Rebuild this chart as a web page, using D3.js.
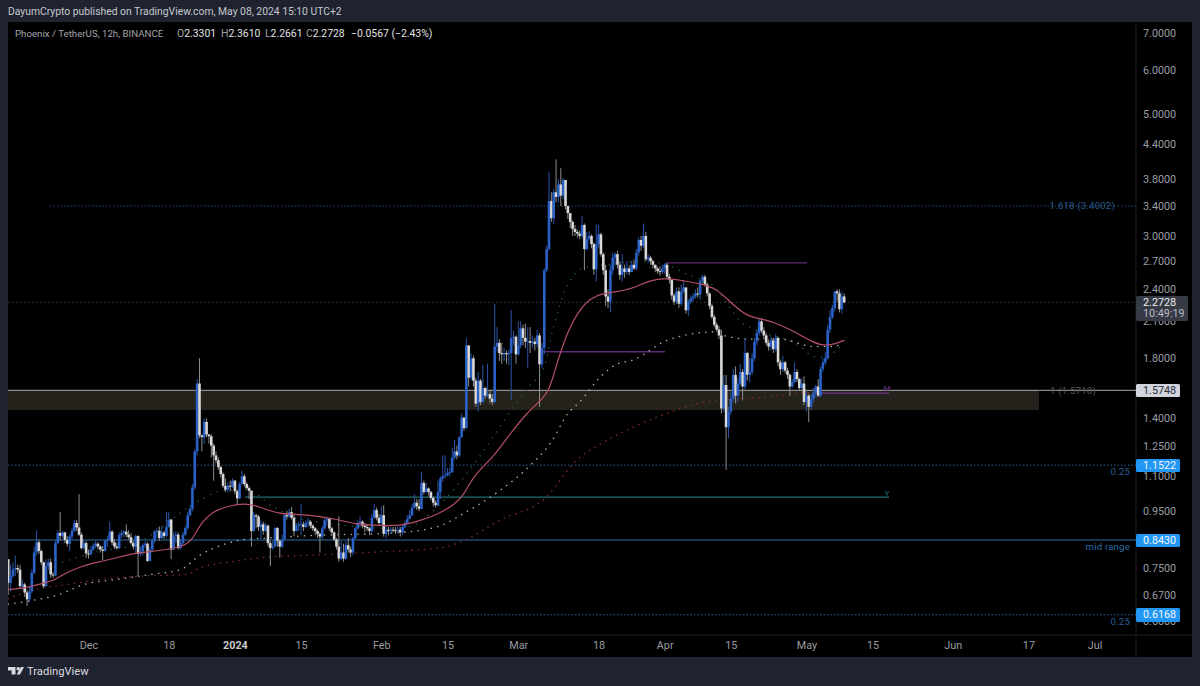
<!DOCTYPE html>
<html lang="en">
<head>
<meta charset="UTF-8">
<title>Phoenix / TetherUS, 12h</title>
<script src="https://d3js.org/d3.v7.min.js"></script>
<style>
  html, body { margin: 0; padding: 0; background: #1f2330; overflow: hidden; }
  svg { display: block; font-family: Roboto, "Liberation Sans", sans-serif; }
  .axis .domain, .axis line { display: none; }
  .axis text { fill: #9b9da3; font-size: 10.8px; font-family: Roboto, "Liberation Sans", sans-serif; }
</style>
</head>
<body>
<svg id="chart" width="1200" height="686"></svg>

<script>
    // 12h candles. Open of each bar is the previous close.
    const firstBar = Date.UTC(2023, 10, 14);
    const barMs = 12 * 3600 * 1000;
    const firstOpen = 0.778;

    const closes = [
        .705,.725,.745,.75,.745,.695,.70,.677,.658,.68,
        .735,.80,.835,.805,.768,.695,.756,.768,.73,.727,
        .832,.868,.858,.87,.843,.83,.855,.875,.905,.888,
        .862,.815,.832,.797,.795,.81,.823,.83,.82,.81,
        .805,.84,.845,.873,.835,.82,.815,.86,.868,.873,
        .862,.853,.832,.82,.857,.795,.803,.825,.83,.772,
        .81,.84,.873,.876,.85,.87,.857,.89,.918,.81,
        .857,.862,.815,.832,.862,.886,.935,.96,1.05,1.22,
        1.62,1.305,1.295,1.38,1.31,1.30,1.25,1.20,1.176,1.143,
        1.11,1.057,1.04,1.057,1.053,1.08,1.033,1.003,1.065,1.10,
        1.065,1.047,1.035,.875,.935,.93,.89,.90,.876,.895,
        .832,.815,.82,.886,.84,.82,.845,.935,.93,.947,
        .925,.875,.895,.90,.90,.89,.905,.91,.895,.885,
        .875,.865,.855,.885,.915,.92,.885,.87,.845,.82,
        .78,.80,.78,.825,.81,.80,.85,.885,.905,.91,
        .895,.89,.885,.875,.925,.955,.925,.905,.935,.865,
        .88,.875,.88,.878,.875,.88,.87,.89,.905,.92,
        .935,.965,.985,.97,.96,1.07,1.03,1.045,1.03,1.005,
        .985,.975,1.03,1.09,1.10,1.105,1.115,1.12,1.19,1.22,
        1.20,1.295,1.405,1.345,1.90,1.66,1.80,1.64,1.49,1.64,
        1.50,1.59,1.54,1.55,1.52,1.50,1.89,1.92,1.84,1.83,
        1.84,1.83,1.84,1.96,1.97,1.83,1.90,2.04,1.96,1.93,
        1.935,1.92,1.93,1.91,1.98,1.755,1.88,2.60,2.84,3.47,
        3.23,3.60,3.53,3.72,3.55,3.79,3.40,3.30,3.18,3.09,
        3.05,3.03,3.00,3.14,2.84,2.96,3.00,2.90,2.61,2.90,
        3.02,2.78,2.60,2.33,2.28,2.60,2.74,2.78,2.66,2.55,
        2.62,2.58,2.62,2.58,2.66,2.62,2.80,2.95,2.88,3.00,
        2.72,2.74,2.70,2.66,2.62,2.59,2.58,2.62,2.66,2.53,
        2.50,2.34,2.28,2.38,2.26,2.38,2.42,2.20,2.28,2.31,
        2.33,2.36,2.35,2.49,2.53,2.45,2.36,2.24,2.14,2.07,
        2.03,1.98,1.46,1.61,1.35,1.44,1.52,1.68,1.54,1.62,
        1.70,1.60,1.84,1.68,1.70,1.80,1.93,2.00,2.10,2.02,
        1.98,1.92,1.89,1.94,1.87,1.96,1.77,1.72,1.77,1.71,
        1.68,1.60,1.63,1.70,1.65,1.59,1.62,1.50,1.54,1.47,
        1.52,1.56,1.60,1.54,1.72,1.77,1.80,2.03,2.14,2.22,
        2.38,2.36,2.21,2.3301,2.2728
    ];
    const highs = [
        .778,.76,.768,.79,.76,.76,.715,.705,.685,.695,
        .745,.82,.878,.845,.81,.77,.778,.78,.78,.737,
        .84,.878,.947,.875,.872,.857,.862,.888,.916,.916,
        1.02,.87,.845,.84,.81,.822,.832,.84,.835,.825,
        .822,.845,.857,.91,.878,.845,.832,.87,.878,.878,
        .90,.878,.868,.84,.862,.86,.82,.832,.84,.835,
        .82,.847,.88,.888,.892,.892,.875,.947,.947,.92,
        .87,.875,.87,.845,.872,.895,.947,.975,1.065,1.23,
        1.65,1.80,1.31,1.40,1.40,1.31,1.31,1.26,1.22,1.19,
        1.15,1.118,1.09,1.073,1.08,1.09,1.083,1.04,1.073,1.125,
        1.11,1.073,1.057,1.038,.947,.94,.935,.915,.91,.905,
        .90,.84,.84,.892,.89,.845,.862,.94,.952,.96,
        .967,.935,.905,.91,.98,.91,.915,.925,.915,.90,
        .89,.88,.87,.895,.925,.93,.925,.89,.875,.85,
        .93,.84,.83,.84,.85,.82,.855,.89,.915,.93,
        .915,.905,.90,.89,.94,.98,.965,.94,.97,.975,
        .895,.89,.89,.89,.89,.895,.89,.90,.915,.935,
        .955,.98,1.02,1.0,1.0,1.12,1.08,1.07,1.05,1.035,
        1.01,.995,1.08,1.10,1.20,1.20,1.14,1.14,1.24,1.28,
        1.25,1.30,1.43,1.41,1.96,1.90,1.84,1.82,1.66,1.70,
        1.65,1.75,1.60,1.76,1.57,1.55,2.26,2.05,1.95,1.92,
        1.88,1.86,1.87,2.20,2.02,1.98,2.10,2.10,2.07,2.08,
        2.05,2.05,1.98,1.96,2.03,2.0,1.92,2.62,2.88,3.92,
        3.60,3.65,4.13,3.80,3.98,3.82,3.79,3.40,3.30,3.20,
        3.14,3.08,3.07,3.26,3.16,3.05,3.06,3.02,2.92,3.15,
        3.14,3.04,2.80,2.66,2.40,2.66,2.80,2.80,2.82,2.70,
        2.78,2.66,2.70,2.65,2.70,2.72,2.84,2.98,3.00,3.16,
        3.05,2.78,2.76,2.72,2.66,2.64,2.64,2.66,2.68,2.68,
        2.56,2.50,2.36,2.42,2.42,2.45,2.48,2.42,2.30,2.34,
        2.36,2.40,2.42,2.50,2.55,2.55,2.47,2.37,2.26,2.16,
        2.09,2.06,2.03,1.68,1.68,1.47,1.56,1.72,1.74,1.66,
        1.76,1.72,1.96,1.85,1.80,1.84,1.96,2.03,2.13,2.13,
        2.05,2.0,1.95,1.97,1.96,1.99,1.97,1.79,1.82,1.78,
        1.73,1.69,1.65,1.77,1.72,1.66,1.66,1.67,1.57,1.55,
        1.55,1.59,1.61,1.65,1.74,1.80,1.85,2.07,2.20,2.25,
        2.38,2.40,2.40,2.38,2.361
    ];
    const lows = [
        .67,.68,.72,.725,.735,.69,.685,.665,.64,.65,
        .675,.73,.79,.795,.76,.69,.695,.745,.72,.72,
        .725,.83,.84,.85,.832,.82,.805,.845,.87,.875,
        .857,.81,.81,.783,.78,.79,.805,.815,.81,.80,
        .775,.803,.82,.84,.825,.812,.81,.812,.85,.853,
        .853,.845,.827,.81,.795,.725,.787,.79,.815,.77,
        .772,.80,.832,.85,.84,.847,.847,.853,.888,.778,
        .808,.832,.81,.81,.827,.857,.88,.93,.95,1.04,
        1.2,1.29,1.22,1.26,1.295,1.26,1.19,1.08,1.16,1.13,
        1.095,1.047,1.03,1.028,1.033,1.047,1.02,.98,1.0,1.06,
        1.053,1.04,1.0,.82,.873,.885,.875,.845,.862,.87,
        .82,.756,.81,.82,.82,.783,.815,.84,.918,.925,
        .918,.857,.873,.875,.86,.875,.885,.89,.885,.875,
        .86,.85,.80,.845,.88,.895,.875,.86,.84,.81,
        .77,.775,.77,.775,.80,.785,.79,.845,.88,.89,
        .885,.87,.875,.86,.87,.92,.915,.895,.90,.855,
        .85,.86,.865,.87,.865,.87,.855,.86,.885,.90,
        .92,.93,.96,.955,.95,.96,1.02,1.025,1.015,.995,
        .97,.965,.97,1.0,1.075,1.09,1.10,1.10,1.115,1.18,
        1.18,1.19,1.29,1.33,1.34,1.60,1.64,1.60,1.47,1.44,
        1.48,1.49,1.52,1.53,1.49,1.48,1.49,1.85,1.78,1.76,
        1.78,1.76,1.75,1.51,1.90,1.76,1.82,1.88,1.90,1.88,
        1.73,1.84,1.88,1.86,1.88,1.47,1.73,1.83,2.58,2.82,
        3.18,3.15,3.45,3.45,3.40,3.50,3.35,3.22,3.10,3.0,
        3.0,2.98,2.96,2.97,2.60,2.82,2.94,2.85,2.55,2.48,
        2.85,2.75,2.55,2.24,2.22,2.18,2.55,2.65,2.62,2.50,
        2.48,2.52,2.55,2.55,2.58,2.60,2.60,2.76,2.82,2.85,
        2.70,2.68,2.66,2.62,2.58,2.56,2.54,2.56,2.56,2.50,
        2.46,2.30,2.25,2.26,2.22,2.24,2.36,2.17,2.15,2.26,
        2.28,2.31,2.32,2.30,2.46,2.43,2.33,2.21,2.12,2.05,
        2.01,1.95,1.43,1.44,1.13,1.29,1.42,1.50,1.49,1.50,
        1.60,1.51,1.58,1.64,1.63,1.68,1.78,1.90,1.98,2.0,
        1.95,1.90,1.86,1.86,1.84,1.85,1.74,1.68,1.70,1.69,
        1.65,1.54,1.59,1.62,1.63,1.57,1.58,1.48,1.44,1.38,
        1.45,1.50,1.53,1.53,1.53,1.70,1.75,1.79,2.0,2.12,
        2.19,2.28,2.18,2.17,2.2661
    ];

    // moving averages, read at a handful of bars (bar number, price)
    const pinkBars = [0,8,15,19,23,31,39,46,53,60,67,73,78,81,87,93,100,107,114,124,132,139,147,157,166,172,180,188,193,197,205,212,220,227,229,231,233,237,242,247,252,256,265,271,279,285,293,300,306,313,320,327,334,341,347,354];
    const pinkValues = [.685,.69,.705,.71,.73,.756,.77,.783,.797,.803,.81,.818,.84,.90,.953,.97,.985,.967,.94,.938,.93,.92,.90,.895,.895,.908,.93,.97,1.015,1.105,1.185,1.305,1.44,1.53,1.58,1.68,1.80,2.02,2.21,2.32,2.36,2.37,2.41,2.49,2.52,2.49,2.46,2.41,2.27,2.14,2.12,2.07,2.0,1.92,1.89,1.94];
    const whiteBars = [0,11,21,32,46,60,73,81,93,100,110,124,166,183,194,208,221,230,237,242,251,257,265,279,299,303,314,327,341,347,354];
    const whiteValues = [.645,.656,.67,.70,.715,.73,.745,.79,.832,.845,.85,.857,.87,.895,.948,1.035,1.15,1.27,1.43,1.50,1.67,1.75,1.79,1.94,2.01,1.98,1.95,1.95,1.89,1.89,1.91];
    const redBars = [0,11,25,39,56,76,81,95,110,124,152,183,194,208,227,241,251,268,285,299,320,334,345];
    const redValues = [.66,.685,.70,.715,.725,.73,.75,.77,.785,.79,.80,.816,.845,.915,1.0,1.18,1.26,1.37,1.46,1.51,1.53,1.555,1.56];
    const greenBars = [23,39,51,82,90,101,112,124,166,185,194,205,212,220,227,231,233,235,237,240,244,253,268,279,287,299,306,310,315,334,342,347,350,354];
    const greenValues = [.768,.805,.82,1.0,1.035,1.04,.97,.92,.885,1.0,1.11,1.29,1.43,1.59,1.74,2.06,2.20,2.35,2.45,2.56,2.63,2.66,2.70,2.66,2.56,2.43,2.21,2.10,2.04,1.91,1.81,1.81,1.85,1.92];

    const priceTicks = [7, 6, 5, 4.4, 3.8, 3.4, 3, 2.7, 2.4, 2.1, 1.8, 1.4, 1.25, 1.1, 0.95, 0.75, 0.67, 0.6];
    const timeTicks = [[2023,11,1,"Dec"],[2023,11,18,"18"],[2024,0,1,"2024"],[2024,0,15,"15"],[2024,1,1,"Feb"],[2024,1,15,"15"],[2024,2,1,"Mar"],[2024,2,18,"18"],[2024,3,1,"Apr"],[2024,3,15,"15"],[2024,4,1,"May"],[2024,4,15,"15"],[2024,5,1,"Jun"],[2024,5,17,"17"],[2024,6,1,"Jul"]];

    const svg = d3.select("#chart");
    const plot = {left: 8, right: 1136, top: 22, bottom: 635, edge: 1192, end: 657};

    const x = d3.scaleUtc()
        .domain([Date.UTC(2023, 11, 1), Date.UTC(2024, 6, 1)])
        .range([88.5, 1094.5]);
    const y = d3.scaleLog()
        .domain([7, 0.67])
        .range([33, 595]);
    const barX = i => x(firstBar + i * barMs);

    // panes
    svg.append("rect").attr("x", plot.left).attr("y", plot.top)
        .attr("width", plot.edge - plot.left).attr("height", plot.end - plot.top).attr("fill", "#000");
    svg.append("line").attr("x1", plot.right).attr("x2", plot.right).attr("y1", plot.top).attr("y2", plot.end).attr("stroke", "#1c1d22");
    svg.append("line").attr("x1", plot.left).attr("x2", plot.edge).attr("y1", plot.bottom).attr("y2", plot.bottom).attr("stroke", "#1c1d22");
    svg.append("defs").append("clipPath").attr("id", "pane").append("rect")
        .attr("x", plot.left).attr("y", plot.top).attr("width", plot.right - plot.left).attr("height", plot.bottom - plot.top);

    const g = svg.append("g").attr("clip-path", "url(#pane)");

    // supply band
    g.append("rect").attr("x", plot.left).attr("width", 1039 - plot.left)
        .attr("y", y(1.5748)).attr("height", y(1.45) - y(1.5748)).attr("fill", "#24221a");

    // horizontal levels: price, from x, to x, colour, dash, width
    const hline = (price, x1, x2, color, dash, w) => g.append("line")
        .attr("x1", x1).attr("x2", x2).attr("y1", y(price)).attr("y2", y(price))
        .attr("stroke", color).attr("stroke-width", w || 1).attr("stroke-dasharray", dash || null);
    hline(3.4002, 50, plot.right, "#234a78", "1.5 2");
    hline(2.2728, plot.left, plot.right, "#3c3f47", "1.5 2.5");
    hline(1.1522, plot.left, plot.right, "#2a5f96", "1.5 2");
    hline(0.6168, plot.left, plot.right, "#2a5f96", "1.5 2");
    hline(0.843, plot.left, plot.right, "#2a6ea8", null, 1.2);
    hline(1.5748, plot.left, plot.right, "#a9abb0", null, 1);
    hline(1.008, 245, 889, "#1f6f74", null, 1.3);
    hline(2.68, 666, 807, "#5f2a78", null, 1.3);
    hline(1.85, 542, 665, "#5f2a78", null, 1.3);
    hline(1.556, 815, 889, "#74338c", null, 1.3);

    // moving averages
    const maLine = (bars, values, curve) => d3.line()
        .x(i => barX(bars[i]))
        .y(i => y(values[i]))
        .curve(curve)(d3.range(bars.length));
    const ma = (bars, values, color, dash, w) => g.append("path")
        .attr("d", maLine(bars, values, dash ? d3.curveMonotoneX : d3.curveBasis)).attr("fill", "none").attr("stroke", color)
        .attr("stroke-width", w).attr("stroke-dasharray", dash).attr("stroke-linecap", "round");
    ma(greenBars, greenValues, "#1d5a3e", "0.2 7", 1.4);
    ma(redBars, redValues, "#7d2b2b", "0.2 6", 1.5);
    ma(whiteBars, whiteValues, "#a8a89c", "0.2 6.5", 1.5);

    // candles
    const opens = closes.map((c, i) => i ? closes[i - 1] : firstOpen);
    const isUp = i => closes[i] >= opens[i];
    const upColor = "#2b62c8", downColor = "#d8d8d8";
    const upWick = "#2a55a8", downWick = "#8e8e8e";

    g.append("g").selectAll("line").data(d3.range(closes.length)).join("line")
        .attr("x1", barX).attr("x2", barX)
        .attr("y1", i => y(highs[i])).attr("y2", i => y(lows[i]))
        .attr("stroke", i => isUp(i) ? upWick : downWick).attr("stroke-width", 1);

    g.append("g").selectAll("rect").data(d3.range(closes.length)).join("rect")
        .attr("x", i => barX(i) - 1.3).attr("width", 2.6)
        .attr("y", i => y(Math.max(opens[i], closes[i])))
        .attr("height", i => Math.max(1, Math.abs(y(opens[i]) - y(closes[i]))))
        .attr("fill", i => isUp(i) ? upColor : downColor);

    ma(pinkBars, pinkValues, "#b44f64", null, 1.2);

    // level labels
    const note = (px, py, s, color, anchor, size) => svg.append("text")
        .attr("x", px).attr("y", py).attr("text-anchor", anchor || "start").attr("dominant-baseline", "middle")
        .attr("fill", color).attr("font-size", size || 9.6).attr("letter-spacing", .2).text(s);
    note(1115, 206.5, "1.618 (3.4002)", "#2a5f96", "end");
    note(1096, 391, "1 (1.5710)", "#55565c", "end");
    note(1130, 472.5, "0.25", "#2a5f96", "end");
    note(1130, 547.5, "mid range", "#2a6ea8", "end");
    note(1130, 622.5, "0.25", "#2a5f96", "end");
    note(887, 494, "Y", "#1f6f74", "middle", 8);
    note(887, 389, "M", "#74338c", "middle", 8);

    // axes
    svg.append("g").attr("class", "axis")
        .attr("transform", `translate(${plot.right},0)`)
        .call(d3.axisRight(y).tickValues(priceTicks).tickSize(0).tickPadding(7).tickFormat(d => d.toFixed(4)));

    svg.append("g").attr("class", "axis")
        .attr("transform", `translate(0,${plot.bottom})`)
        .call(d3.axisBottom(x)
            .tickValues(timeTicks.map(t => Date.UTC(t[0], t[1], t[2])))
            .tickSize(0).tickPadding(6)
            .tickFormat((d, i) => timeTicks[i][3]))
        .selectAll("text")
        .attr("font-weight", (d, i) => timeTicks[i][3] === "2024" ? 700 : null)
        .style("fill", (d, i) => timeTicks[i][3] === "2024" ? "#c9cbd0" : null);

    // price tags
    const tag = (top, bottom, right, bg, fg, lines) => {
        svg.append("rect").attr("x", plot.right).attr("y", top).attr("width", right - plot.right)
            .attr("height", bottom - top).attr("rx", 1.5).attr("fill", bg);
        lines.forEach((s, k) => svg.append("text")
            .attr("x", 1143).attr("y", top + 6.8 + k * 11.6).attr("dominant-baseline", "middle")
            .attr("fill", k ? "#b8bbc4" : fg).attr("font-size", 10.8).text(s));
    };
    tag(296, 321, 1188, "#363a45", "#eceef2", ["2.2728", "10:49:19"]);
    tag(384, 397, 1180, "#d1d4dc", "#2a2e39", ["1.5748"]);
    tag(459, 472, 1180, "#2196f3", "#f2f6fb", ["1.1522"]);
    tag(534, 547, 1180, "#2196f3", "#f2f6fb", ["0.8430"]);
    tag(608, 622, 1180, "#2196f3", "#f2f6fb", ["0.6168"]);

    // header
    svg.append("text").attr("x", 8).attr("y", 12.5).attr("dominant-baseline", "middle")
        .attr("fill", "#c6c8ce").attr("font-size", 10.35)
        .text("DayumCrypto published on TradingView.com, May 08, 2024 15:10 UTC+2");

    const legend = svg.append("text").attr("x", 15).attr("y", 34).attr("dominant-baseline", "middle")
        .attr("font-size", 10.4).attr("fill", "#a2a4aa");
    legend.append("tspan").attr("font-size", 9.7).text("Phoenix / TetherUS, 12h, BINANCE");
    [["O", "2.3301", 177], ["H", "2.3610", 221], ["L", "2.2661", 265], ["C", "2.2728", 306]].forEach(d => {
        legend.append("tspan").attr("x", d[2]).text(d[0]);
        legend.append("tspan").attr("fill", "#e2e3e6").text(d[1]);
    });
    legend.append("tspan").attr("x", 351).attr("fill", "#e2e3e6").text("\u22120.0567 (\u22122.43%)");

    // footer logo
    const logo = svg.append("g").attr("transform", "translate(8,667)").attr("fill", "#d8dadf");
    logo.append("path").attr("d", "M0 0H7.5V7.5H3.6V3.4H0Z");
    logo.append("circle").attr("cx", 10.2).attr("cy", 1.8).attr("r", 1.8);
    logo.append("path").attr("d", "M13 0H16L12 7.5H8.6Z");
    svg.append("text").attr("x", 27).attr("y", 672).attr("dominant-baseline", "middle")
        .attr("fill", "#d8dadf").attr("font-size", 11.2).text("TradingView");
</script>
</body>
</html>
